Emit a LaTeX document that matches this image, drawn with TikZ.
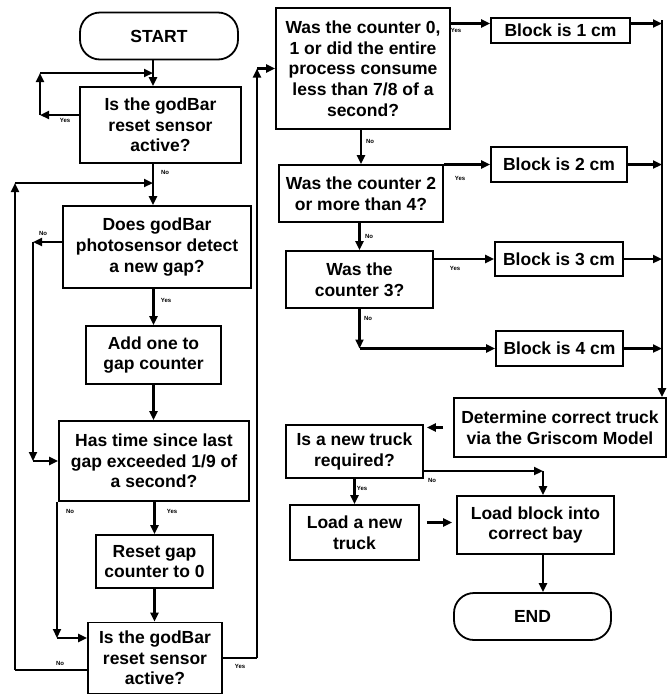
\documentclass[tikz,border=0pt]{standalone}
\usepackage{fontspec}
\setmainfont{Liberation Sans}
\usepackage{tikz}
\usetikzlibrary{positioning,arrows.meta,calc}
\newcommand{\boxfont}{\fontsize{17.5}{20.7}\selectfont\bfseries}
\tikzset{
  proc/.style = {rectangle, draw, line width=1.8pt, align=center, inner sep=2pt, font=\boxfont},
  term/.style = {proc, rounded corners=20pt},
  flow/.style = {-{Triangle[length=9pt,width=8pt]}, line width=2.2pt},
  wire/.style = {line width=2.2pt},
  tag/.style  = {font=\fontsize{6}{6}\selectfont\bfseries, inner sep=0pt},
}
\begin{document}
\begin{tikzpicture}[x=1pt, y=-1pt]
  \useasboundingbox (0,0) rectangle (669,697);

  % left column
  \node[term, minimum width=158, minimum height=47] (start) at (159,36) {START};
  \node[proc, minimum width=161, minimum height=76] (rst1)  at (160.5,125) {Is the godBar\\reset sensor\\active?};
  \node[proc, minimum width=188, minimum height=82] (gap)   at (157,247) {Does godBar\\photosensor detect\\a new gap?};
  \node[proc, minimum width=135, minimum height=58] (add)   at (153.5,355) {Add one to\\gap counter};
  \node[proc, minimum width=190, minimum height=80] (time)  at (154,461) {Has time since last\\gap exceeded 1/9 of\\a second?};
  \node[proc, minimum width=117, minimum height=53] (reset) at (154.5,561.5) {Reset gap\\counter to 0};
  \node[proc, minimum width=134, minimum height=71] (rst2)  at (155,658) {Is the godBar\\reset sensor\\active?};

  % right column
  \node[proc, minimum width=174, minimum height=121] (cnt01) at (363,68.5) {Was the counter 0,\\1 or did the entire\\process consume\\less than 7/8 of a\\second?};
  \node[proc, minimum width=164, minimum height=57] (cnt24) at (361,193.5) {Was the counter 2\\or more than 4?};
  \node[proc, minimum width=147, minimum height=57] (cnt3)  at (359.5,279.5) {Was the\\counter 3?};
  \node[proc, minimum width=139, minimum height=25] (b1) at (560.5,30.5) {Block is 1 cm};
  \node[proc, minimum width=136, minimum height=35] (b2) at (559,164.5) {Block is 2 cm};
  \node[proc, minimum width=128, minimum height=34] (b3) at (559,259) {Block is 3 cm};
  \node[proc, minimum width=127, minimum height=35] (b4) at (559.5,348.5) {Block is 4 cm};
  \node[proc, minimum width=212, minimum height=59] (truck) at (560,427.5) {Determine correct truck\\via the Griscom Model};
  \node[proc, minimum width=137, minimum height=53] (newtr) at (354.5,451.5) {Is a new truck\\required?};
  \node[proc, minimum width=129, minimum height=55] (load)  at (354.5,532.5) {Load a new\\truck};
  \node[proc, minimum width=157, minimum height=58] (bay)   at (535.5,525) {Load block into\\correct bay};
  \node[term, minimum width=157, minimum height=47] (end)   at (532.5,616.5) {END};

  % corners of the connectors
  \coordinate (j1) at (153,73);
  \coordinate (l1) at (40,115);
  \coordinate (j2) at (153,183);
  \coordinate (o1) at (15,670);
  \coordinate (o2) at (15,183);
  \coordinate (g1) at (33,242);
  \coordinate (t1) at (57,638);
  \coordinate (y1) at (257,658);
  \coordinate (col) at (662,20);
  \coordinate (n3) at (cnt3.south |- b4.west);
  \coordinate (n4) at (543,471);

  % left column connectors
  \draw[flow] (start.south -| j1) -- (rst1.north -| j1);
  \draw[flow] (rst1.west |- l1) -- (l1);
  \draw[flow] (l1) -- (l1 |- j1);
  \draw[flow] (l1 |- j1) -- (j1);
  \draw[flow] (rst1.south -| j2) -- (gap.north -| j2);
  \draw[wire] (rst2.west |- o1) -- (o1);
  \draw[flow] (o1) -- (o2);
  \draw[flow] (o2) -- (j2);
  \draw[flow] (gap.south -| add.north) -- (add.north);
  \draw[flow] (gap.west |- g1) -- (g1);
  \draw[flow] (g1) -- (g1 |- time.west);
  \draw[flow] (g1 |- time.west) -- (time.west);
  \draw[flow] (add.south) -- (add.south |- time.north);
  \draw[flow] (time.south -| reset.north) -- (reset.north);
  \draw[flow] (time.south -| t1) -- (t1);
  \draw[flow] (t1) -- (t1 -| rst2.west);
  \draw[flow] (reset.south) -- (reset.south |- rst2.north);
  \draw[wire] (rst2.east) -- (y1);
  \draw[flow] (y1) -- (y1 |- cnt01.west);
  \draw[flow] (y1 |- cnt01.west) -- (cnt01.west);

  % right column connectors
  \draw[flow] ([yshift=7pt]b1.west -| cnt01.east) -- ([yshift=7pt]b1.west);
  \draw[flow] (cnt01.south -| cnt24.north) -- (cnt24.north);
  \draw[flow] (b2.west -| cnt24.east) -- (b2.west);
  \draw[flow] (cnt24.south -| cnt3.north) -- (cnt3.north);
  \draw[flow] (b3.west -| cnt3.east) -- (b3.west);
  \draw[flow] (cnt3.south) -- (n3);
  \draw[flow] (n3) -- (b4.west);
  \draw[flow] ([yshift=7pt]b1.east) -- ([yshift=7pt]b1.east -| col);
  \foreach \b in {b2,b3,b4}
    \draw[flow] (\b.east) -- (\b.east -| col);
  \draw[flow] (col) -- (col |- truck.north);
  \draw[flow, shorten <=10pt, shorten >=3pt] (truck.west) -- (truck.west -| newtr.east);
  \draw[flow] (newtr.east |- n4) -- (n4);
  \draw[flow] (n4) -- (n4 |- bay.north);
  \draw[flow] (newtr.south -| load.north) -- (load.north);
  \draw[flow, shorten <=7pt, shorten >=4pt] ([yshift=10pt]load.east) -- ([yshift=10pt]load.east -| bay.west);
  \draw[flow] (bay.south -| n4) -- (end.north -| n4);

  % yes / no tags
  \node[tag] (yes1) at (65,120) {Yes};
  \node[tag] (no1)  at (165,172) {No};
  \node[tag] (no2)  at (43,233) {No};
  \node[tag] (yes2) at (166,300) {Yes};
  \node[tag] (no3)  at (70,511) {No};
  \node[tag] (yes3) at (172,511) {Yes};
  \node[tag] (no4)  at (60,663) {No};
  \node[tag] (yes4) at (240,666) {Yes};
  \node[tag] (yes5) at (456,30) {Yes};
  \node[tag] (no5)  at (370,141) {No};
  \node[tag] (yes6) at (460,178) {Yes};
  \node[tag] (no6)  at (369,236) {No};
  \node[tag] (yes7) at (455,268) {Yes};
  \node[tag] (no7)  at (368,318) {No};
  \node[tag] (no8)  at (432,480) {No};
  \node[tag] (yes8) at (362,488) {Yes};
\end{tikzpicture}
\end{document}
